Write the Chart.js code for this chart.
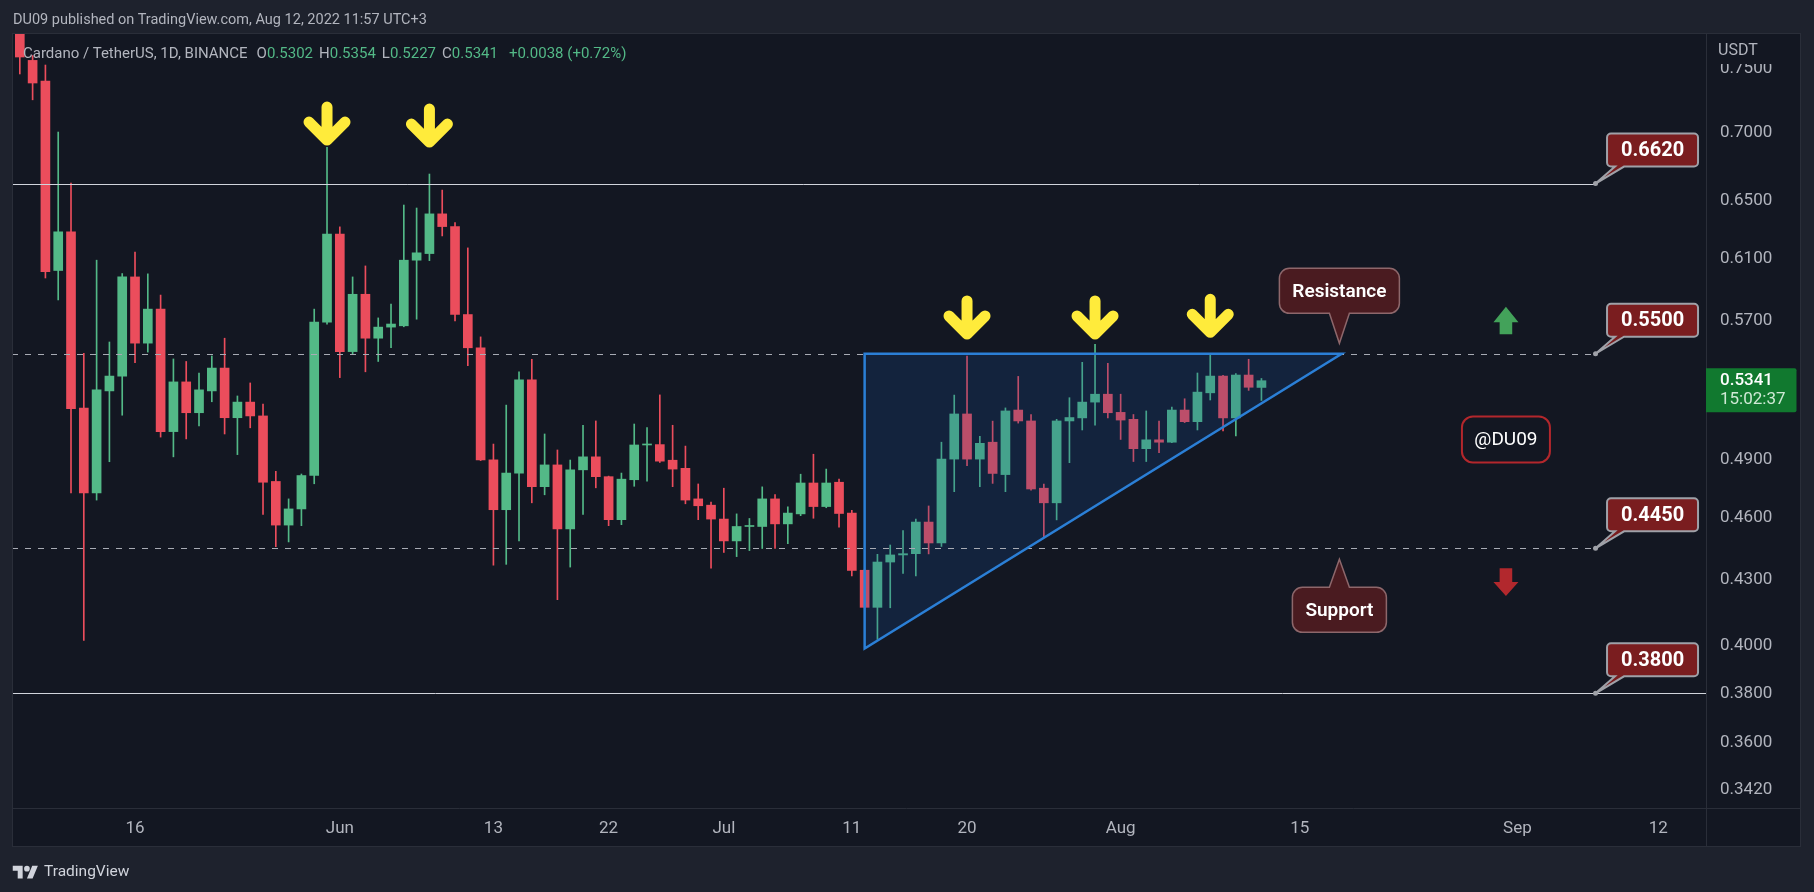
<!DOCTYPE html>
<html>
<head>
<meta charset="utf-8">
<title>Cardano / TetherUS, 1D, BINANCE</title>
<script src="https://cdn.jsdelivr.net/npm/chart.js@4.4.1/dist/chart.umd.min.js"></script>
<style>
  html, body { margin:0; padding:0; background:#1e222d; }
  body { width:1814px; height:892px; overflow:hidden; position:relative; font-family: Roboto, "Noto Sans", sans-serif; }
  #frame { position:absolute; left:12px; top:33px; width:1789px; height:814px; background:#131722; }
  #c { position:absolute; left:0; top:0; }
  #hdr { position:absolute; left:13px; top:11px; font-size:14.5px; color:#b2b5be; line-height:18px; white-space:nowrap; }
  #legend { position:absolute; left:23px; top:44px; font-size:15px; color:#b2b5be; line-height:18px; white-space:nowrap; }
  #legend .v { color:#53b987; }
  #footer { position:absolute; left:12px; top:861px; height:20px; display:flex; align-items:center; color:#d1d4dc; font-size:15.5px; }
  #footer svg { margin-right:5px; }
</style>
</head>
<body>
<div id="frame"></div>
<canvas id="c" width="1814" height="892"></canvas>
<div id="hdr">DU09 published on TradingView.com, Aug 12, 2022 11:57 UTC+3</div>
<div id="legend"></div>
<div id="footer"><svg width="27" height="17" viewBox="0 0 36 24"><path d="M14 22H7V11H0V4h14v18zM28 22h-8l7.5-18h8L28 22z" fill="#d1d4dc"/><circle cx="20" cy="8" r="4" fill="#d1d4dc"/></svg><span>TradingView</span></div>
<script>
// ---------------- DATA ----------------
const dates = [
 '2022-05-07','2022-05-08','2022-05-09','2022-05-10','2022-05-11','2022-05-12','2022-05-13','2022-05-14','2022-05-15','2022-05-16',
 '2022-05-17','2022-05-18','2022-05-19','2022-05-20','2022-05-21','2022-05-22','2022-05-23','2022-05-24','2022-05-25','2022-05-26',
 '2022-05-27','2022-05-28','2022-05-29','2022-05-30','2022-05-31','2022-06-01','2022-06-02','2022-06-03','2022-06-04','2022-06-05',
 '2022-06-06','2022-06-07','2022-06-08','2022-06-09','2022-06-10','2022-06-11','2022-06-12','2022-06-13','2022-06-14','2022-06-15',
 '2022-06-16','2022-06-17','2022-06-18','2022-06-19','2022-06-20','2022-06-21','2022-06-22','2022-06-23','2022-06-24','2022-06-25',
 '2022-06-26','2022-06-27','2022-06-28','2022-06-29','2022-06-30','2022-07-01','2022-07-02','2022-07-03','2022-07-04','2022-07-05',
 '2022-07-06','2022-07-07','2022-07-08','2022-07-09','2022-07-10','2022-07-11','2022-07-12','2022-07-13','2022-07-14','2022-07-15',
 '2022-07-16','2022-07-17','2022-07-18','2022-07-19','2022-07-20','2022-07-21','2022-07-22','2022-07-23','2022-07-24','2022-07-25',
 '2022-07-26','2022-07-27','2022-07-28','2022-07-29','2022-07-30','2022-07-31','2022-08-01','2022-08-02','2022-08-03','2022-08-04',
 '2022-08-05','2022-08-06','2022-08-07','2022-08-08','2022-08-09','2022-08-10','2022-08-11','2022-08-12'
];
const open = [
 0.7900,0.7570,0.7402,0.6022,0.6281,0.5184,0.4727,0.5282,0.5368,0.5980,
 0.5564,0.5774,0.5053,0.5334,0.5158,0.5282,0.5415,0.5130,0.5218,0.5140,
 0.4786,0.4564,0.4645,0.4817,0.5693,0.6266,0.5513,0.5868,0.5594,0.5662,
 0.5670,0.6090,0.6134,0.6405,0.6317,0.5740,0.5536,0.4900,0.4641,0.4830,
 0.5346,0.4759,0.4873,0.4545,0.4847,0.4916,0.4811,0.4591,0.4795,0.4980,
 0.4982,0.4898,0.4855,0.4696,0.4664,0.4594,0.4486,0.4557,0.4557,0.4696,
 0.4570,0.4620,0.4778,0.4657,0.4782,0.4624,0.4345,0.4173,0.4384,0.4418,
 0.4424,0.4579,0.4476,0.4904,0.5151,0.4904,0.4995,0.4822,0.5173,0.5112,
 0.4751,0.4676,0.5112,0.5129,0.5218,0.5263,0.5160,0.5121,0.4960,0.5008,
 0.4995,0.5173,0.5108,0.5271,0.5368,0.5129,0.5374,0.5302
];
const high = [
 0.7950,0.7610,0.7532,0.7002,0.6623,0.5502,0.6090,0.5571,0.6002,0.6144,
 0.6000,0.5863,0.5469,0.5454,0.5386,0.5487,0.5594,0.5253,0.5328,0.5207,
 0.4839,0.4696,0.4825,0.5774,0.6886,0.6315,0.5980,0.6052,0.5719,0.5805,
 0.6467,0.6446,0.6689,0.6573,0.6345,0.6172,0.5602,0.4985,0.5201,0.5393,
 0.5467,0.5040,0.4953,0.4899,0.5088,0.5112,0.4814,0.4830,0.5095,0.5075,
 0.5259,0.5088,0.4974,0.4773,0.4680,0.4751,0.4620,0.4597,0.4758,0.4718,
 0.4655,0.4824,0.4930,0.4851,0.4798,0.4638,0.4350,0.4421,0.4466,0.4537,
 0.4594,0.4660,0.4995,0.5258,0.5486,0.5027,0.5111,0.5185,0.5366,0.5148,
 0.4773,0.5121,0.5243,0.5449,0.5557,0.5443,0.5263,0.5148,0.5168,0.5111,
 0.5190,0.5237,0.5386,0.5493,0.5373,0.5382,0.5467,0.5354
];
const low = [
 0.7459,0.7252,0.5973,0.5832,0.4727,0.4025,0.4690,0.4890,0.5144,0.5447,
 0.5510,0.5023,0.4916,0.5013,0.5085,0.5220,0.5040,0.4928,0.5074,0.4617,
 0.4458,0.4481,0.4561,0.4774,0.5680,0.5359,0.5499,0.5393,0.5454,0.5536,
 0.5664,0.5711,0.6087,0.6253,0.5700,0.5429,0.4896,0.4369,0.4373,0.4486,
 0.4676,0.4717,0.4208,0.4360,0.4617,0.4753,0.4561,0.4566,0.4761,0.4787,
 0.4886,0.4759,0.4671,0.4591,0.4355,0.4430,0.4410,0.4439,0.4449,0.4449,
 0.4472,0.4611,0.4598,0.4651,0.4554,0.4318,0.4170,0.4030,0.4171,0.4330,
 0.4318,0.4423,0.4459,0.4733,0.4869,0.4759,0.4776,0.4733,0.5100,0.4741,
 0.4507,0.4590,0.4885,0.5062,0.5088,0.5129,0.5010,0.4891,0.4891,0.4939,
 0.4992,0.5103,0.5062,0.5230,0.5057,0.5029,0.5285,0.5227
];
const close = [
 0.7598,0.7386,0.6015,0.6281,0.5181,0.4727,0.5288,0.5368,0.5980,0.5564,
 0.5774,0.5053,0.5334,0.5158,0.5288,0.5415,0.5130,0.5218,0.5140,0.4782,
 0.4564,0.4645,0.4817,0.5693,0.6266,0.5513,0.5868,0.5594,0.5662,0.5681,
 0.6090,0.6139,0.6405,0.6317,0.5740,0.5536,0.4899,0.4641,0.4830,0.5346,
 0.4759,0.4873,0.4545,0.4847,0.4916,0.4811,0.4591,0.4798,0.4980,0.4982,
 0.4893,0.4851,0.4690,0.4661,0.4594,0.4486,0.4557,0.4561,0.4696,0.4570,
 0.4624,0.4778,0.4657,0.4778,0.4622,0.4344,0.4173,0.4384,0.4418,0.4424,
 0.4579,0.4476,0.4904,0.5151,0.4904,0.4989,0.4828,0.5168,0.5112,0.4747,
 0.4676,0.5112,0.5131,0.5218,0.5263,0.5158,0.5117,0.4960,0.5008,0.4995,
 0.5173,0.5108,0.5275,0.5368,0.5129,0.5374,0.5303,0.5341
];

const xTickDates  = ['2022-05-16','2022-06-01','2022-06-13','2022-06-22','2022-07-01','2022-07-11','2022-07-20','2022-08-01','2022-08-15','2022-09-01','2022-09-12'];
const xTickLabels = ['16','Jun','13','22','Jul','11','20','Aug','15','Sep','12'];
const yTicks = [0.75, 0.70, 0.65, 0.61, 0.57, 0.49, 0.46, 0.43, 0.40, 0.38, 0.36, 0.342];

// horizontal levels drawn by the author
const levels      = [0.662, 0.55, 0.445, 0.38];
const levelLabels = ['0.6620', '0.5500', '0.4450', '0.3800'];
const levelDashed = [false, true, true, false];
const levelToEdge = [false, false, false, true];

// ascending triangle (start date, apex day offset, top / bottom prices)
const triStartDate = '2022-07-12';
const triApexDay = 94.27;
const triTop = 0.55, triBottom = 0.399;

// yellow "top" arrows: date and price of arrow tip
const peakArrowDates = ['2022-05-31', '2022-06-08', '2022-07-20', '2022-07-30', '2022-08-08'];
const peakArrowTips  = [0.6896, 0.6881, 0.5583, 0.5583, 0.5593];

// callouts
const calloutTexts  = ['Resistance', 'Support'];
const calloutDays   = [94.09, 94.09];
const calloutPrices = [0.5563, 0.4397];

const sideDay = 107.1;          // column of @DU09 and the green / red arrows
const watermarkPrice = 0.5010;
const upArrowTip = 0.5789, downArrowTip = 0.4225;
const labelAnchorDay = 114.1;   // where level labels attach
const countdown = '15:02:37';

// ---------------- PREP ----------------
const DAY = 86400000;
const dayOf = s => (Date.parse(s) - Date.parse('2022-05-16')) / DAY;
const xs = dates.map(dayOf);
const UP = '#53b987', DN = '#eb4d5c';
const colors = close.map((c, i) => c >= open[i] ? UP : DN);

// legend
(function(){
  const n = close.length - 1;
  const chg = close[n] - close[n-1];
  const pct = chg / close[n-1] * 100;
  const sgn = chg >= 0 ? '+' : '';
  const f = v => v.toFixed(4);
  document.getElementById('legend').innerHTML =
    '<span>Cardano / TetherUS, 1D, BINANCE</span>' +
    '<span style="margin-left:9px">O</span><span class="v">' + f(open[n]) + '</span>' +
    '<span style="margin-left:6px">H</span><span class="v">' + f(high[n]) + '</span>' +
    '<span style="margin-left:6px">L</span><span class="v">' + f(low[n]) + '</span>' +
    '<span style="margin-left:6px">C</span><span class="v">' + f(close[n]) + '</span>' +
    '<span class="v" style="margin-left:11px">' + sgn + f(chg) + ' (' + sgn + pct.toFixed(2) + '%)</span>';
})();

// ---------------- DRAW HELPERS ----------------
function calloutPath(ctx, bx, by, bw, bh, r, tipX, tipY, half, tailDown) {
  ctx.beginPath();
  ctx.moveTo(bx + r, by);
  if (!tailDown) { ctx.lineTo(tipX - half, by); ctx.lineTo(tipX, tipY); ctx.lineTo(tipX + half, by); }
  ctx.lineTo(bx + bw - r, by); ctx.arcTo(bx + bw, by, bx + bw, by + r, r);
  ctx.lineTo(bx + bw, by + bh - r); ctx.arcTo(bx + bw, by + bh, bx + bw - r, by + bh, r);
  if (tailDown) { ctx.lineTo(tipX + half, by + bh); ctx.lineTo(tipX, tipY); ctx.lineTo(tipX - half, by + bh); }
  ctx.lineTo(bx + r, by + bh); ctx.arcTo(bx, by + bh, bx, by + bh - r, r);
  ctx.lineTo(bx, by + r); ctx.arcTo(bx, by, bx + r, by, r);
  ctx.closePath();
}
function labelPath(ctx, bx, by, bw, bh, r, tipX, tipY) {
  ctx.beginPath();
  ctx.moveTo(bx + r, by);
  ctx.lineTo(bx + bw - r, by); ctx.arcTo(bx + bw, by, bx + bw, by + r, r);
  ctx.lineTo(bx + bw, by + bh - r); ctx.arcTo(bx + bw, by + bh, bx + bw - r, by + bh, r);
  ctx.lineTo(bx + 17, by + bh); ctx.lineTo(tipX, tipY); ctx.lineTo(bx + 8, by + bh);
  ctx.lineTo(bx + r, by + bh); ctx.arcTo(bx, by + bh, bx, by + bh - r, r);
  ctx.lineTo(bx, by + r); ctx.arcTo(bx, by, bx + r, by, r);
  ctx.closePath();
}
function yellowArrow(ctx, cx, tipY) {
  ctx.save();
  ctx.strokeStyle = '#ffeb3b'; ctx.lineWidth = 11; ctx.lineCap = 'round'; ctx.lineJoin = 'round';
  ctx.beginPath();
  ctx.moveTo(cx, tipY - 39); ctx.lineTo(cx, tipY - 6);
  ctx.moveTo(cx - 18, tipY - 24); ctx.lineTo(cx, tipY - 6); ctx.lineTo(cx + 18, tipY - 24);
  ctx.stroke();
  ctx.restore();
}

const overlay = {
  id: 'overlay',
  afterDatasetsDraw(chart) {
    const { ctx, chartArea: a, scales: { x, y } } = chart;
    ctx.save();
    ctx.beginPath(); ctx.rect(a.left, a.top, a.right - a.left, a.bottom - a.top); ctx.clip();

    // triangle
    const tx0 = x.getPixelForValue(dayOf(triStartDate));
    const tx1 = x.getPixelForValue(triApexDay);
    const ty0 = y.getPixelForValue(triTop);
    const ty1 = y.getPixelForValue(triBottom);
    ctx.beginPath();
    ctx.moveTo(tx0, ty0); ctx.lineTo(tx1, ty0); ctx.lineTo(tx0, ty1); ctx.closePath();
    ctx.fillStyle = 'rgba(25,80,160,0.22)';
    ctx.fill();

    // levels
    const anchorX = x.getPixelForValue(labelAnchorDay);
    levels.forEach((v, i) => {
      const py = Math.round(y.getPixelForValue(v)) + 0.5;
      const xEnd = levelToEdge[i] ? a.right : anchorX;
      ctx.save();
      ctx.strokeStyle = levelDashed[i] ? '#a8abb4' : '#d1d4dc';
      ctx.lineWidth = 1;
      ctx.setLineDash(levelDashed[i] ? [6, 7] : []);
      ctx.beginPath(); ctx.moveTo(a.left, py); ctx.lineTo(xEnd, py); ctx.stroke();
      ctx.restore();
    });

    // triangle outline
    ctx.beginPath();
    ctx.moveTo(tx0, ty0); ctx.lineTo(tx1, ty0); ctx.lineTo(tx0, ty1); ctx.closePath();
    ctx.strokeStyle = '#2b7fd6'; ctx.lineWidth = 2.5; ctx.lineJoin = 'miter';
    ctx.stroke();

    // yellow arrows
    peakArrowDates.forEach((d, i) => yellowArrow(ctx, x.getPixelForValue(dayOf(d)), y.getPixelForValue(peakArrowTips[i])));

    // callouts
    calloutTexts.forEach((t, i) => {
      const tipX = x.getPixelForValue(calloutDays[i]);
      const tipY = y.getPixelForValue(calloutPrices[i]);
      ctx.font = '600 19px Roboto';
      const bw = Math.round(ctx.measureText(t).width) + 26, bh = 45;
      const bx = tipX - bw / 2;
      const down = i === 0;
      const by = down ? tipY - 30 - bh : tipY + 28;
      calloutPath(ctx, bx, by, bw, bh, 10, tipX, tipY, 10, down);
      ctx.fillStyle = '#4a1b20'; ctx.fill();
      ctx.strokeStyle = '#8d676b'; ctx.lineWidth = 1.5; ctx.stroke();
      ctx.fillStyle = '#ffffff'; ctx.textAlign = 'center'; ctx.textBaseline = 'middle';
      ctx.fillText(t, tipX, by + bh / 2 + 1);
    });

    // @DU09 watermark box
    const sx = x.getPixelForValue(sideDay);
    const wy = y.getPixelForValue(watermarkPrice);
    ctx.beginPath(); ctx.roundRect(sx - 44, wy - 23, 88, 46, 11);
    ctx.strokeStyle = '#b3272c'; ctx.lineWidth = 2; ctx.stroke();
    ctx.font = '19px Roboto'; ctx.fillStyle = '#ffffff'; ctx.textAlign = 'center'; ctx.textBaseline = 'middle';
    ctx.fillText('@DU09', sx, wy + 1);

    // green up arrow
    const uy = y.getPixelForValue(upArrowTip);
    ctx.beginPath();
    ctx.moveTo(sx, uy); ctx.lineTo(sx + 12.5, uy + 15.5); ctx.lineTo(sx + 6.3, uy + 15.5); ctx.lineTo(sx + 6.3, uy + 27.5);
    ctx.lineTo(sx - 6.3, uy + 27.5); ctx.lineTo(sx - 6.3, uy + 15.5); ctx.lineTo(sx - 12.5, uy + 15.5); ctx.closePath();
    ctx.fillStyle = '#43a25a'; ctx.fill();
    // red down arrow
    const dy = y.getPixelForValue(downArrowTip);
    ctx.beginPath();
    ctx.moveTo(sx, dy); ctx.lineTo(sx + 12.5, dy - 14); ctx.lineTo(sx + 6.3, dy - 14); ctx.lineTo(sx + 6.3, dy - 27.7);
    ctx.lineTo(sx - 6.3, dy - 27.7); ctx.lineTo(sx - 6.3, dy - 14); ctx.lineTo(sx - 12.5, dy - 14); ctx.closePath();
    ctx.fillStyle = '#b2282d'; ctx.fill();

    // level labels
    levels.forEach((v, i) => {
      const py = y.getPixelForValue(v);
      const bx = anchorX + 11.5, bw = 91, bh = 33, by = py - 17 - bh;
      labelPath(ctx, bx, by, bw, bh, 4, anchorX, py);
      ctx.fillStyle = '#7a1d1f'; ctx.fill();
      ctx.strokeStyle = '#9fa1a8'; ctx.lineWidth = 2; ctx.stroke();
      ctx.beginPath(); ctx.arc(anchorX, py, 2.5, 0, Math.PI * 2); ctx.fillStyle = '#9fa1a8'; ctx.fill();
      ctx.font = 'bold 20px Roboto'; ctx.fillStyle = '#ffffff'; ctx.textAlign = 'center'; ctx.textBaseline = 'middle';
      ctx.fillText(levelLabels[i], bx + bw / 2, by + bh / 2 + 1);
    });
    ctx.restore();
  },
  afterDraw(chart) {
    const { ctx, chartArea: a, scales: { y } } = chart;
    ctx.save();
    // panel separators
    ctx.strokeStyle = '#2a2e39'; ctx.lineWidth = 1;
    ctx.beginPath();
    ctx.moveTo(12, a.bottom + 0.5); ctx.lineTo(1801, a.bottom + 0.5);
    ctx.moveTo(a.right + 0.5, 33); ctx.lineTo(a.right + 0.5, 847);
    ctx.stroke();
    ctx.strokeRect(12.5, 33.5, 1788, 813);
    // USDT header on price axis
    ctx.fillStyle = '#131722'; ctx.fillRect(a.right + 1, 34, 1800 - a.right - 1, 30);
    ctx.font = '16px Roboto'; ctx.fillStyle = '#b2b5be'; ctx.textAlign = 'left'; ctx.textBaseline = 'middle';
    ctx.fillText('USDT', a.right + 12, 51);
    // last price label
    const n = close.length - 1;
    const py = y.getPixelForValue(close[n]);
    ctx.fillStyle = '#11792f';
    ctx.beginPath(); ctx.roundRect(a.right, py - 12.5, 90.5, 44, [0, 2, 2, 0]); ctx.fill();
    ctx.font = '500 17px Roboto'; ctx.fillStyle = '#ffffff';
    ctx.fillText(close[n].toFixed(4), a.right + 14, py + 0.5);
    ctx.font = '17px Roboto'; ctx.fillStyle = '#cfe9d5';
    ctx.fillText(countdown, a.right + 14, py + 19);
    ctx.restore();
  }
};

Chart.defaults.font.family = 'Roboto';
new Chart(document.getElementById('c'), {
  type: 'bar',
  data: {
    datasets: [
      { label: 'wick', data: xs.map((v, i) => ({ x: v, y: [low[i], high[i]] })), backgroundColor: colors,
        barThickness: 1, grouped: false, order: 2 },
      { label: 'body', data: xs.map((v, i) => ({ x: v, y: [open[i], close[i]] })), backgroundColor: colors,
        barThickness: 9, minBarLength: 1, grouped: false, order: 1 }
    ]
  },
  options: {
    responsive: false, animation: false, devicePixelRatio: 1, events: [],
    layout: { padding: { left: 12, top: 33, right: 13, bottom: 45 } },
    plugins: { legend: { display: false }, tooltip: { enabled: false } },
    scales: {
      x: {
        type: 'linear', position: 'bottom', min: -9.61, max: 122.73, offset: false,
        grid: { display: false, drawTicks: false }, border: { display: false },
        afterBuildTicks: s => { s.ticks = xTickDates.map(d => ({ value: dayOf(d) })); },
        afterFit: s => { s.height = 39; },
        ticks: { autoSkip: false, maxRotation: 0, padding: 11, color: '#b2b5be', font: { size: 17 },
                 callback: (v, i) => xTickLabels[i] }
      },
      y: {
        type: 'logarithmic', position: 'right', min: 0.33539, max: 0.77993,
        grid: { display: false, drawTicks: false }, border: { display: false },
        afterBuildTicks: s => { s.ticks = yTicks.map(v => ({ value: v })); },
        afterFit: s => { s.width = 95; },
        ticks: { autoSkip: false, crossAlign: 'near', padding: 14, color: '#b2b5be', font: { size: 17 },
                 callback: v => Number(v).toFixed(4) }
      }
    }
  },
  plugins: [overlay]
});
</script>
</body>
</html>
